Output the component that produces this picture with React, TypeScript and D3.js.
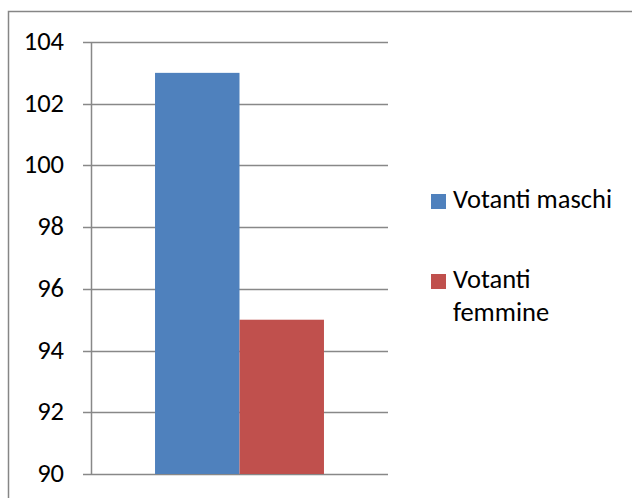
import React from 'react';
import * as d3 from 'd3';

const categories = ['Votanti'];
const seriesNames = ['Votanti maschi', 'Votanti femmine'];
const seriesValues = [103, 95];
const seriesColors = ['#4F81BD', '#C0504D'];
const tickValues = [90, 92, 94, 96, 98, 100, 102, 104];

const width = 632;
const height = 498;
const font = 'Calibri, Carlito, Lato, sans-serif';
const fontSize = 26.5;

// simple greedy wrap for legend labels
function wrap(label: string, maxChars: number) {
  const words = label.split(' ');
  const lines: string[] = [];
  let cur = '';
  words.forEach(w => {
    const next = cur ? cur + ' ' + w : w;
    if (next.length > maxChars && cur) {
      lines.push(cur);
      cur = w;
    } else {
      cur = next;
    }
  });
  if (cur) lines.push(cur);
  return lines;
}

export default function App() {
  const plot = { left: 91, right: 388, top: 42, bottom: 474 };

  const y = d3.scaleLinear().domain([90, 104]).range([plot.bottom, plot.top]);
  const x0 = d3
    .scaleBand()
    .domain(categories)
    .range([plot.left, plot.right])
    .paddingInner(0)
    .paddingOuter(0.379);
  const x1 = d3.scaleBand().domain(seriesNames).range([0, x0.bandwidth()]);

  const legendX = 431;
  const legendRows = [194, 274];

  return (
    <svg
      width={width}
      height={height}
      style={{ position: 'absolute', left: 0, top: 0, background: '#fff' }}
      fontFamily={font}
    >
      {/* chart frame, cut off at the right and bottom edges */}
      <rect x={8.5} y={11.5} width={640} height={500} fill="#fff" stroke="#868686" strokeWidth={1.5} />

      {tickValues.map(t => (
        <g key={t}>
          <line x1={83} x2={plot.right} y1={Math.round(y(t)) + 0.5} y2={Math.round(y(t)) + 0.5} stroke="#888" strokeWidth={1.5} />
          <text x={64} y={y(t)} dy="0.3em" textAnchor="end" fontSize={fontSize} fill="#000">
            {t}
          </text>
        </g>
      ))}
      <line x1={plot.left + 0.5} x2={plot.left + 0.5} y1={plot.top} y2={plot.bottom} stroke="#888" strokeWidth={1.5} />

      {categories.map(c => (
        <g key={c} transform={`translate(${x0(c)},0)`}>
          {seriesNames.map((s, i) => (
            <rect
              key={s}
              x={x1(s)}
              y={y(seriesValues[i])}
              width={x1.bandwidth()}
              height={y(90) - y(seriesValues[i])}
              fill={seriesColors[i]}
            />
          ))}
        </g>
      ))}

      {seriesNames.map((s, i) => (
        <g key={s} transform={`translate(${legendX},${legendRows[i]})`}>
          <rect x={0} y={0} width={15} height={15} fill={seriesColors[i]} />
          <text x={22} y={14} fontSize={fontSize} fill="#000">
            {wrap(s, 14).map((line, j) => (
              <tspan key={j} x={22} dy={j === 0 ? 0 : 33}>
                {line}
              </tspan>
            ))}
          </text>
        </g>
      ))}
    </svg>
  );
}
